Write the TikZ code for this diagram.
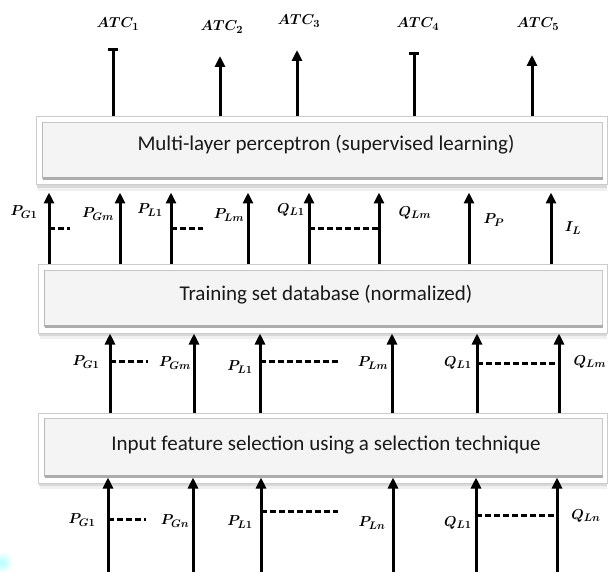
\documentclass[tikz,border=0pt]{standalone}
\usepackage{fontspec}
\setmainfont{Carlito}
\usetikzlibrary{arrows.meta,fit}
\tikzset{
  frame/.style={draw=gray!40, fill=white, line width=1pt, inner sep=0pt},
  innerface/.style={draw=gray!45, fill=gray!9, line width=0.8pt},
  boxtext/.style={font=\fontsize{21}{23}\selectfont, text=black!90, inner sep=1pt},
  lab/.style={font=\fontsize{15}{17}\selectfont\boldmath, inner sep=0pt},
  arr/.style={line width=3pt, -{Triangle[width=10pt,length=11pt]}},
  barr/.style={line width=3pt, -{Rectangle[width=10pt,length=3.5pt]}},
  dsh/.style={line width=3pt, dash pattern=on 6pt off 3pt},
}
\newcommand\mybevel[5]{%
  \fill[gray!12] (#2+2,#3+3) rectangle (#4,#5+6);
  \fill[gray!30] (#2+1,#3+2) rectangle (#4,#5+3);
  \node[frame, fit={(#2,#3) (#4,#5)}] (#1) {};
  \draw[innerface] ([shift={(7,6)}]#1.north west) rectangle ([shift={(-5,-7)}]#1.south east);
  \draw[gray!65, line width=2.2pt] ([shift={(7,-7)}]#1.south west) -- ([shift={(-5,-7)}]#1.south east);
  \draw[gray!55, line width=1.2pt] ([shift={(7,6)}]#1.north west) -- ([shift={(7,-7)}]#1.south west);
}
\begin{document}
\begin{tikzpicture}[x=1pt,y=-1pt]
\useasboundingbox (0,0) rectangle (608,572);
\shade[inner color=cyan!30, outer color=white] (2,562) circle (11);

% boxes
\mybevel{mlp}{36}{117}{607}{185}
\mybevel{train}{38}{265}{607}{333}
\mybevel{sel}{38}{413}{607}{483}
\node[boxtext] (mlptxt) at (326,145) {Multi-layer perceptron (supervised learning)};
\node[boxtext] (traintxt) at (326,295) {Training set database (normalized)};
\node[boxtext] (seltxt) at (326,445) {Input feature selection using a selection technique};

% outputs
\coordinate (t1) at (113,48);
\coordinate (t2) at (220,56);
\coordinate (t3) at (297,50);
\coordinate (t4) at (414,52);
\coordinate (t5) at (532,55);
\draw[barr] (t1 |- mlp.north) -- (t1);
\draw[arr] (t2 |- mlp.north) -- (t2);
\draw[arr] (t3 |- mlp.north) -- (t3);
\draw[barr] (t4 |- mlp.north) -- (t4);
\draw[arr] (t5 |- mlp.north) -- (t5);
\node[lab] (atc1) at (118,24) {$ATC_1$};
\node[lab] (atc2) at (222,27) {$ATC_2$};
\node[lab] (atc3) at (299,21) {$ATC_3$};
\node[lab] (atc4) at (418,24) {$ATC_4$};
\node[lab] (atc5) at (538,24) {$ATC_5$};

% row A: training -> mlp
\foreach \n/\x in {1/49,2/120,3/171,4/248,5/309,6/379,7/469,8/551}{
  \coordinate (a\n) at (\x,300);
  \draw[arr, shorten >=7pt] (a\n |- train.north) -- (a\n |- mlp.south);
}
\draw[dsh] (49,229) -- (70,229);
\draw[dsh] (171,229) -- (203,229);
\draw[dsh] (309,229) -- (379,229);
\node[lab] (pa1) at (24,212) {$P_{G1}$};
\node[lab] (pa2) at (98,214) {$P_{Gm}$};
\node[lab] (pa3) at (150,210) {$P_{L1}$};
\node[lab] (pa4) at (229,215) {$P_{Lm}$};
\node[lab] (pa5) at (291,210) {$Q_{L1}$};
\node[lab] (pa6) at (415,213) {$Q_{Lm}$};
\node[lab] (pa7) at (494,220) {$P_{P}$};
\node[lab] (pa8) at (573,228) {$I_{L}$};

% row B: selection -> training
\foreach \n/\x in {1/110,2/194,3/260,4/392,5/477,6/559}{
  \coordinate (b\n) at (\x,380);
  \draw[arr] (b\n |- sel.north) -- (b\n |- train.south);
}
\draw[dsh] (110,361) -- (148,361);
\draw[dsh] (260,361) -- (338,361);
\draw[dsh] (477,363) -- (559,363);
\node[lab] (pb1) at (86,362) {$P_{G1}$};
\node[lab] (pb2) at (175,363) {$P_{Gm}$};
\node[lab] (pb3) at (240,367) {$P_{L1}$};
\node[lab] (pb4) at (373,363) {$P_{Lm}$};
\node[lab] (pb5) at (458,363) {$Q_{L1}$};
\node[lab] (pb6) at (590,362) {$Q_{Lm}$};

% row C: inputs -> selection
\foreach \n/\x in {1/108,2/193,3/261,4/393,5/476,6/557}{
  \coordinate (c\n) at (\x,572);
  \draw[arr, shorten >=-6pt] (c\n) -- (c\n |- sel.south);
}
\draw[dsh] (108,519) -- (146,519);
\draw[dsh] (261,511) -- (338,511);
\draw[dsh] (476,515) -- (557,515);
\node[lab] (pc1) at (82,520) {$P_{G1}$};
\node[lab] (pc2) at (175,521) {$P_{Gn}$};
\node[lab] (pc3) at (240,522) {$P_{L1}$};
\node[lab] (pc4) at (372,523) {$P_{Ln}$};
\node[lab] (pc5) at (458,523) {$Q_{L1}$};
\node[lab] (pc6) at (586,516) {$Q_{Ln}$};
\end{tikzpicture}
\end{document}
